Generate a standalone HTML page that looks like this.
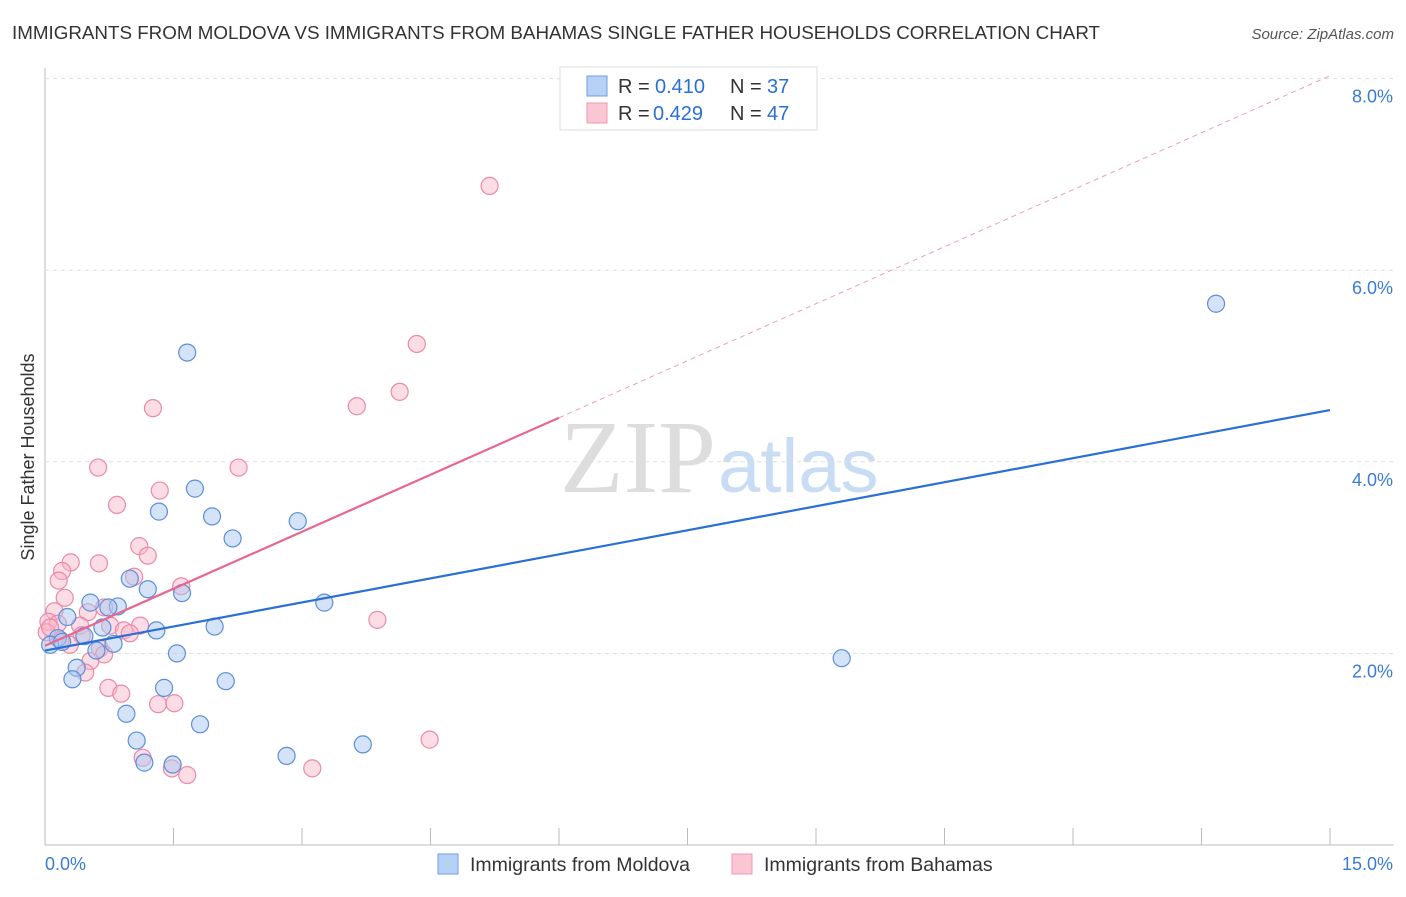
<!DOCTYPE html>
<html><head><meta charset="utf-8"><style>
body{margin:0;background:#fff;font-family:"Liberation Sans",sans-serif}
</style></head><body>
<svg id="c" width="1406" height="892" xmlns="http://www.w3.org/2000/svg">
<text x="12" y="39" font-size="18.8" fill="#333">IMMIGRANTS FROM MOLDOVA VS IMMIGRANTS FROM BAHAMAS SINGLE FATHER HOUSEHOLDS CORRELATION CHART</text>
<text x="1394" y="39" font-size="15" font-style="italic" fill="#555" text-anchor="end">Source: ZipAtlas.com</text>
<text x="716" y="492" font-size="104" fill="#ddd" text-anchor="end" font-family="Liberation Serif,serif">ZIP</text>
<text x="718" y="492" font-size="76" fill="#c8dcf3">atlas</text>
<text transform="translate(34,457) rotate(-90)" font-size="18" fill="#333" text-anchor="middle">Single Father Households</text>
<g id="grid"></g><g id="pts"></g><g id="lines"></g>
<g>
<rect x="560" y="67" width="257" height="63" fill="#fff" stroke="#ddd"/>
<rect x="587" y="76" width="20" height="20" fill="#b6d1f5" stroke="#6f9ee0"/>
<rect x="587" y="103" width="20" height="20" fill="#fbc6d4" stroke="#ec98b2"/>
<text x="618" y="93" font-size="20" fill="#333">R =</text><text x="655" y="93" font-size="20" fill="#2a6fd6">0.410</text>
<text x="730" y="93" font-size="20" fill="#333">N =</text><text x="767" y="93" font-size="20" fill="#2a6fd6">37</text>
<text x="618" y="120" font-size="20" fill="#333">R =</text><text x="653" y="120" font-size="20" fill="#2a6fd6">0.429</text>
<text x="730" y="120" font-size="20" fill="#333">N =</text><text x="767" y="120" font-size="20" fill="#2a6fd6">47</text>
</g>
<g>
<rect x="438" y="854" width="20" height="20" fill="#b6d1f5" stroke="#6f9ee0"/>
<text x="470" y="871" font-size="19.5" fill="#333">Immigrants from Moldova</text>
<rect x="732" y="854" width="20" height="20" fill="#fbc6d4" stroke="#ec98b2"/>
<text x="764" y="871" font-size="19.5" fill="#333">Immigrants from Bahamas</text>
</g>
</svg>
<script>
const xTicks=[0,1.5,3,4.5,6,7.5,9,10.5,12,13.5,15];
const yTicks=[2,4,6,8];
const yTickLabels=["2.0%","4.0%","6.0%","8.0%"];
const moldovaX=[1.66,13.67,9.30,1.75,1.33,1.95,2.95,2.19,0.99,1.20,1.60,0.53,0.85,0.74,3.26,0.26,0.67,1.30,1.98,0.15,0.46,0.06,0.20,0.80,0.60,1.54,0.37,0.32,1.39,2.11,0.95,1.81,1.07,3.71,2.82,1.16,1.49];
const moldovaY=[5.14,5.65,1.95,3.72,3.48,3.43,3.38,3.20,2.78,2.67,2.63,2.53,2.49,2.48,2.53,2.38,2.27,2.24,2.28,2.16,2.18,2.09,2.12,2.10,2.03,2.00,1.85,1.73,1.64,1.71,1.37,1.26,1.09,1.05,0.93,0.86,0.84];
const bahamasX=[5.19,4.34,4.14,3.64,1.26,0.62,2.26,1.34,0.84,1.10,1.20,0.30,0.63,0.20,0.16,1.04,1.59,0.23,0.11,0.50,0.69,3.88,0.04,0.15,0.41,0.76,1.11,0.92,0.99,0.43,0.29,0.64,0.69,0.53,0.47,0.74,0.89,1.32,1.51,4.49,1.14,1.48,1.66,3.12,0.02,0.18,0.06];
const bahamasY=[6.88,5.23,4.73,4.58,4.56,3.94,3.94,3.70,3.55,3.12,3.02,2.95,2.94,2.86,2.76,2.80,2.70,2.58,2.44,2.43,2.48,2.35,2.33,2.31,2.29,2.29,2.29,2.24,2.21,2.19,2.09,2.05,1.99,1.92,1.80,1.64,1.58,1.47,1.48,1.10,0.91,0.80,0.73,0.80,2.22,2.14,2.27];
const moldovaFit=[2.03,4.54];
const bahamasFit=[2.08,8.03];
const X=v=>45+v*(1285/15), Y=v=>845-v*95.8;
const NS="http://www.w3.org/2000/svg";
function mk(p,t,a){const e=document.createElementNS(NS,t);for(const k in a)e.setAttribute(k,a[k]);p.appendChild(e);return e;}
const grid=document.getElementById('grid');
const ax=mk(grid,'line',{x1:45,y1:68,x2:45,y2:845,stroke:'#bbb'});


const bx=mk(grid,'line',{x1:45,y1:845,x2:1394,y2:845,stroke:'#bbb'});


yTicks.forEach((v,i)=>{
 const g=mk(grid,'line',{x1:45,y1:Y(v),x2:1394,y2:Y(v),stroke:'#ddd','stroke-dasharray':'4,4'});
 
 
 const t=mk(grid,'text',{x:1393,y:Y(v)+24,'font-size':18,fill:'#3a7bd5','text-anchor':'end'});
 t.textContent=yTickLabels[i];
 
 
});
xTicks.forEach(v=>{
 if(v===0)return;
 const t=mk(grid,'line',{x1:X(v),y1:828,x2:X(v),y2:845,stroke:'#bbb'});
 
 
});
const xl0=mk(grid,'text',{x:45,y:870,'font-size':18,fill:'#3a7bd5'});xl0.textContent="0.0%";


const xl1=mk(grid,'text',{x:1393,y:870,'font-size':18,fill:'#3a7bd5','text-anchor':'end'});xl1.textContent="15.0%";


const pts=document.getElementById('pts');
bahamasX.forEach((v,i)=>{const c=mk(pts,'circle',{cx:X(v),cy:Y(bahamasY[i]),r:8.5,fill:'#f8b4c8','fill-opacity':0.45,stroke:'#ea8aa8','stroke-width':1.2});
 
 });
moldovaX.forEach((v,i)=>{const c=mk(pts,'circle',{cx:X(v),cy:Y(moldovaY[i]),r:8.5,fill:'#a9c8f0','fill-opacity':0.5,stroke:'#5b8fd8','stroke-width':1.2});
 
 });
const L=document.getElementById('lines');
const bl=mk(L,'line',{x1:X(0),y1:Y(moldovaFit[0]),x2:X(15),y2:Y(moldovaFit[1]),stroke:'#2a6fd6','stroke-width':2.2});


const pm=v=>bahamasFit[0]+(bahamasFit[1]-bahamasFit[0])*v/15;
const pl=mk(L,'line',{x1:X(0),y1:Y(pm(0)),x2:X(6),y2:Y(pm(6)),stroke:'#e8668f','stroke-width':2.2});


const pd=mk(L,'line',{x1:X(6),y1:Y(pm(6)),x2:X(15),y2:Y(pm(15)),stroke:'#eaa0b8','stroke-width':1,'stroke-dasharray':'5,4'});


</script>
</body></html>
